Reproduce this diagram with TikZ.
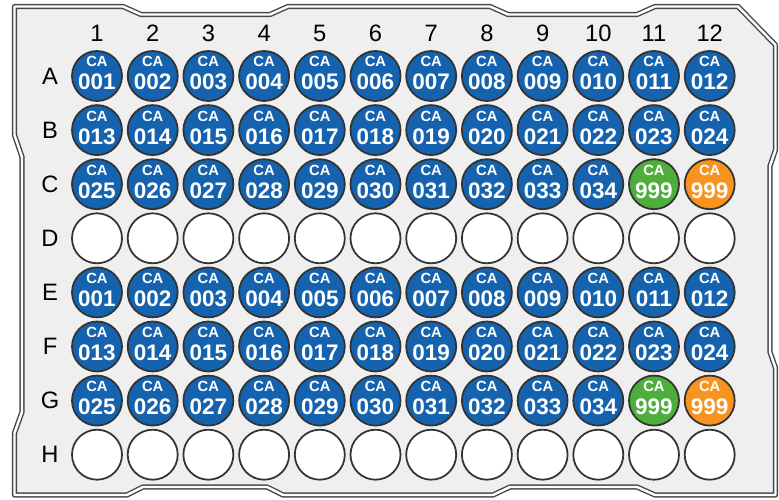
\documentclass[tikz,border=0pt]{standalone}
\usepackage{fontspec}
\setmainfont{Liberation Sans}
\definecolor{wellblue}{HTML}{1562AE}
\definecolor{wellgreen}{HTML}{4DAE3C}
\definecolor{wellorange}{HTML}{F7931E}
\definecolor{platefill}{HTML}{EFEFEF}
\definecolor{plateedge}{HTML}{474747}
\newcommand{\wellid}[1]{\ifnum#1<10 00#1\else 0#1\fi}

\begin{document}
\begin{tikzpicture}[x=0.02cm, y=-0.02cm,
  well/.style={circle, draw=black!80, line width=1pt, minimum size=1cm, inner sep=0pt, fill=white},
  catxt/.style={anchor=base, text=white, inner sep=0pt, font=\fontsize{8.4}{8}\selectfont\bfseries},
  idtxt/.style={anchor=base, text=white, inner sep=0pt, font=\fontsize{12.8}{12}\selectfont\bfseries},
  axislbl/.style={font=\fontsize{13.5}{14}\selectfont, inner sep=0pt},
  plate/.style={draw=plateedge, double=white, double distance=1.4pt, line width=0.8pt, fill=platefill, line join=round}]
\useasboundingbox (0,0) rectangle (779,500);
% plate outline
\draw[plate] (14.5,6.5) -- (123,6.5) -- (141,14.5) -- (270,14.5) -- (288,6.5)
  -- (490,6.5) -- (508,14.5) -- (637,14.5) -- (655,6.5) -- (738,6.5)
  -- (775.5,45) -- (775.5,150) -- (770,166) -- (770,352) -- (775.5,368)
  -- (775.5,495) -- (655,495) -- (637,487) -- (510,487) -- (493,495)
  -- (283,495) -- (267,487) -- (143,487) -- (127,495) -- (14.5,495)
  -- (14.5,433) -- (22,412) -- (22,157) -- (14.5,135) -- cycle;
\foreach \c in {1,...,12}{
  \node[axislbl] (col-\c) at ({97+55.7*(\c-1)},33) {\c};
}
\foreach \r/\l in {1/A,2/B,3/C,4/D,5/E,6/F,7/G,8/H}{
  \node[axislbl] (row-\l) at (50,{76+54.1*(\r-1)}) {\l};
  \foreach \c in {1,...,12}{
    \pgfmathsetmacro\px{97+55.7*(\c-1)}
    \pgfmathsetmacro\py{76+54.1*(\r-1)}
    \pgfmathtruncatemacro\k{\r<4 ? \r-1 : \r-5}
    \pgfmathtruncatemacro\n{12*\k+\c}
    \ifnum\r=4 \node[well] (w-\l\c) at (\px,\py) {};
    \else\ifnum\r=8 \node[well] (w-\l\c) at (\px,\py) {};
    \else
      \ifnum\n<35 \def\col{wellblue}\edef\num{\wellid{\n}}%
      \else\ifnum\c=11 \def\col{wellgreen}\else\def\col{wellorange}\fi\def\num{999}\fi
      \node[well, fill=\col] (w-\l\c) at (\px,\py) {};
      \node[catxt] (ca-\l\c) at ({\px},{\py-9}) {CA};
      \node[idtxt] (id-\l\c) at ({\px},{\py+14}) {\num};
    \fi\fi
  }
}
\end{tikzpicture}
\end{document}
